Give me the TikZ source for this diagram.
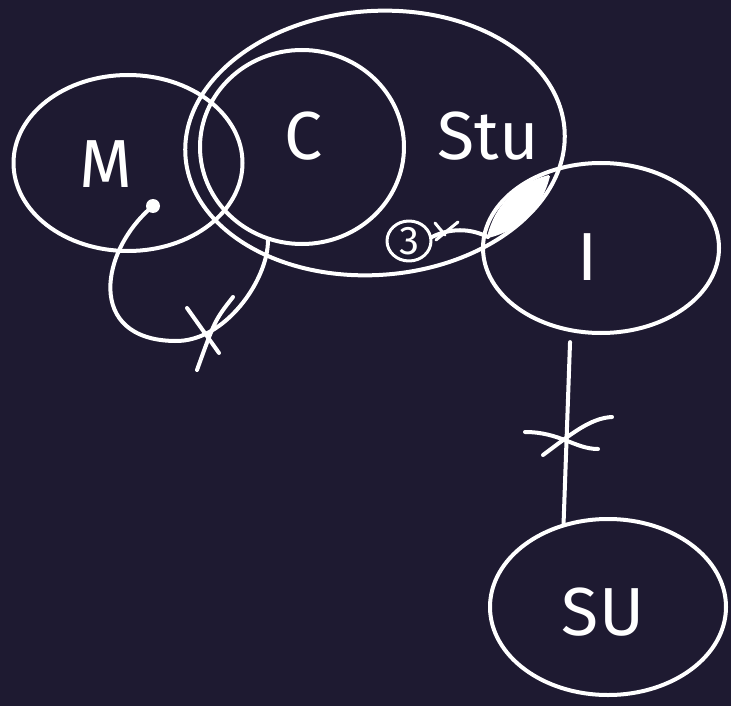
\documentclass[tikz,border=0pt]{standalone}
\usepackage{fontspec}
\setsansfont{Fira Sans}
\usetikzlibrary{shapes.geometric,calc}
\definecolor{boardbg}{HTML}{1E1A31}

\begin{document}
\begin{tikzpicture}[
    x=1pt, y=-1pt,
    ink/.style={draw=white, line width=4pt, line cap=round, line join=round},
    blob/.style={ink, ellipse, inner sep=0pt},
    lbl/.style={text=white, font=\sffamily\fontsize{68}{68}\selectfont}
  ]
  \fill[boardbg] (0,0) rectangle (731,706);
  \useasboundingbox (0,0) rectangle (731,706);
  % sets
  \node[blob, minimum width=229, minimum height=176] (M) at (128,163) {};
  \node[blob, minimum width=204, minimum height=194] (C) at (302,147) {};
  \node[blob, minimum width=380, minimum height=264, rotate=4] (Stu) at (375,143) {};
  \node[blob, minimum width=236, minimum height=170] (I) at (601,248) {};
  \node[blob, minimum width=236, minimum height=176] (SU) at (608,607) {};
  % shaded part shared by Stu and I
  \coordinate (lensTop) at (549,176);
  \coordinate (lensTip) at (488,237);
  \fill[white, draw=white, line width=2pt, line join=round] (lensTop)
    .. controls (517,184) and (496,205) .. (lensTip)
    .. controls (520,229) and (541,208) .. (lensTop);
  % labels
  \node[lbl] (Mlbl) at (106,164) {M};
  \node[lbl] (Clbl) at (304,136) {C};
  \node[lbl] (Stulbl) at (488,136) {Stu};
  \node[lbl] (Ilbl) at (588,257) {I};
  \node[lbl] (SUlbl) at (603,612) {SU};
  % M to C
  \coordinate (dotM) at (153,206);
  \fill[white] (dotM) circle [radius=7];
  \draw[ink] (dotM) .. controls (100,250) and (85,340) .. (175,341)
    .. controls (225,342) and (268,280) .. (C.-110);
  \draw[ink] (187,308) -- (219,353);
  \draw[ink] (233,297) .. controls (215,320) .. (197,370);
  % 3 to the shared part
  \node[blob, minimum width=44, minimum height=40, line width=3pt,
    text=white, font=\sffamily\fontsize{40}{40}\selectfont] (three) at (409,241) {3};
  \draw[ink] (three.10) .. controls (450,228) and (470,228) .. (lensTip);
  \draw[ink, line width=3pt] (435,223) -- (445,235);
  \draw[ink, line width=3pt] (458,222) -- (436,240);
  % I to SU
  \draw[ink, shorten <=10pt] (I.-110) -- (SU.118);
  \draw[ink] (525,432) .. controls (560,432) and (575,449) .. (598,449);
  \draw[ink] (543,455) .. controls (570,435) and (590,418) .. (612,417);
\end{tikzpicture}
\end{document}
